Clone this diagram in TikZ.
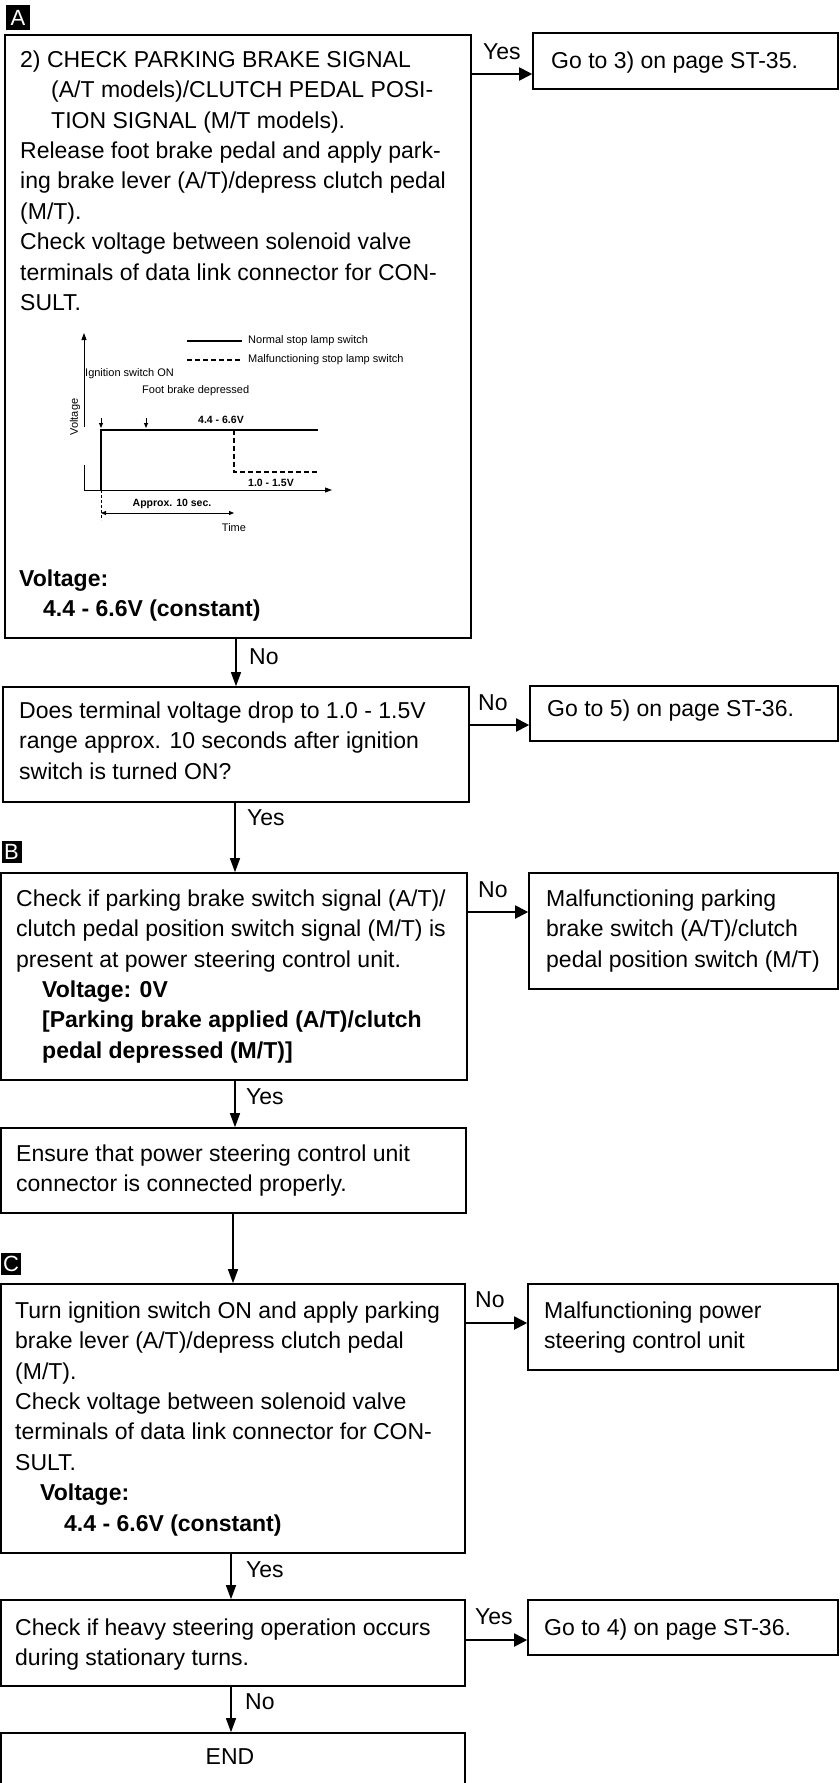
\documentclass[tikz,border=0pt]{standalone}
\usepackage{fontspec}
\setmainfont{Liberation Sans}
\usetikzlibrary{arrows.meta,fit}
\newcommand\mainfs{\fontsize{23}{30.4}\selectfont}
\newcommand\grfs{\fontsize{11}{13}\selectfont}
\begin{document}
\begin{tikzpicture}[x=1pt,y=-1pt,
  box/.style={draw,line width=1.6pt,inner sep=0pt},
  txt/.style={inner sep=0pt,anchor=north west,align=left,font=\mainfs},
  lbl/.style={inner sep=0pt,anchor=west,font=\mainfs},
  harr/.style={line width=1.9pt,-{Triangle[length=13pt,width=13pt]}},
  varr/.style={line width=1.2pt,-{Triangle[length=14pt,width=10pt]}},
  tag/.style={fill=black,text=white,font=\fontsize{22}{22}\selectfont,inner sep=0pt},
  gtxt/.style={inner sep=0pt,font=\grfs},
  gbold/.style={inner sep=0pt,font=\fontsize{10.5}{12}\selectfont\bfseries},
  gline/.style={line width=1.4pt}]
\useasboundingbox (0,0) rectangle (840,1783);
\clip (0,0) rectangle (840,1783);
\fill[white] (0,0) rectangle (840,1783);

% tags
\node[tag,minimum width=24pt,minimum height=25pt] (tA) at (18,17.5) {A};
\node[tag,minimum width=20pt,minimum height=22pt] (tB) at (11.5,852) {B};
\node[tag,minimum width=20pt,minimum height=22pt] (tC) at (11,1264) {C};

% boxes
\node[box,fit={(5,35) (471,638)}] (A) {};
\node[box,fit={(533,33) (838,89)}] (R1) {};
\node[box,fit={(3,687) (469,802)}] (Q2) {};
\node[box,fit={(530,686) (838,741)}] (R2) {};
\node[box,fit={(1,873) (467,1080)}] (B) {};
\node[box,fit={(529,873) (838,989)}] (RB) {};
\node[box,fit={(1,1128) (466,1213)}] (E) {};
\node[box,fit={(1,1284) (465,1553)}] (C) {};
\node[box,fit={(528,1284) (838,1370)}] (RC) {};
\node[box,fit={(1,1600) (465,1686)}] (D) {};
\node[box,fit={(528,1600) (838,1655)}] (RD) {};
\node[box,fit={(1,1733) (465,1800)}] (END) {};

% texts
\node[txt] (tAtext) at (20,50.5) {2) CHECK PARKING BRAKE SIGNAL\\
\hspace*{31pt}(A/T models)/CLUTCH PEDAL POSI-\\
\hspace*{31pt}TION SIGNAL (M/T models).\\
Release foot brake pedal and apply park-\\
ing brake lever (A/T)/depress clutch pedal\\
(M/T).\\
Check voltage between solenoid valve\\
terminals of data link connector for CON-\\
SULT.};
\node[txt,font=\mainfs\bfseries] (tAvolt) at (19,569.5) {Voltage:\\
\hspace*{24pt}4.4 - 6.6V (constant)};
\node[txt] (tR1) at (551,51.5) {Go to 3) on page ST-35.};
\node[txt] (tQ2) at (19,701.5) {Does terminal voltage drop to 1.0 - 1.5V\\
range approx. 10 seconds after ignition\\
switch is turned ON?};
\node[txt] (tR2) at (547,700) {Go to 5) on page ST-36.};
\node[txt] (tB1) at (16,889.5) {Check if parking brake switch signal (A/T)/\\
clutch pedal position switch signal (M/T) is\\
present at power steering control unit.\\
\hspace*{26pt}\textbf{Voltage: 0V}\\
\hspace*{26pt}\textbf{[Parking brake applied (A/T)/clutch}\\
\hspace*{26pt}\textbf{pedal depressed (M/T)]}};
\node[txt] (tRB) at (546,889.5) {Malfunctioning parking\\
brake switch (A/T)/clutch\\
pedal position switch (M/T)};
\node[txt] (tE) at (16,1144.5) {Ensure that power steering control unit\\
connector is connected properly.};
\node[txt] (tC1) at (15,1301.5) {Turn ignition switch ON and apply parking\\
brake lever (A/T)/depress clutch pedal\\
(M/T).\\
Check voltage between solenoid valve\\
terminals of data link connector for CON-\\
SULT.\\
\hspace*{25pt}\textbf{Voltage:}\\
\hspace*{49pt}\textbf{4.4 - 6.6V (constant)}};
\node[txt] (tRC) at (544,1301.5) {Malfunctioning power\\
steering control unit};
\node[txt] (tD) at (15,1618.5) {Check if heavy steering operation occurs\\
during stationary turns.};
\node[txt] (tRD) at (544,1618.5) {Go to 4) on page ST-36.};
\node[inner sep=0pt,font=\mainfs] (tEND) at (230,1757) {END};

% connector labels
\node[lbl] (l1) at (483,52) {Yes};
\node[lbl] (l2) at (249,657) {No};
\node[lbl] (l3) at (478,703) {No};
\node[lbl] (l4) at (247,818) {Yes};
\node[lbl] (l5) at (478,890) {No};
\node[lbl] (l6) at (246,1097) {Yes};
\node[lbl] (l7) at (475,1300) {No};
\node[lbl] (l8) at (246,1570) {Yes};
\node[lbl] (l9) at (475,1617) {Yes};
\node[lbl] (l10) at (245,1702) {No};

% connectors
\coordinate (yA) at (0,74);
\coordinate (y2) at (0,725);
\coordinate (yB) at (0,912);
\coordinate (yC) at (0,1323);
\coordinate (yD) at (0,1640);
\draw[harr] (A.east |- yA) -- (R1.west |- yA);
\draw[harr] (Q2.east |- y2) -- (R2.west |- y2);
\draw[harr] (B.east |- yB) -- (RB.west |- yB);
\draw[harr] (C.east |- yC) -- (RC.west |- yC);
\draw[harr] (D.east |- yD) -- (RD.west |- yD);
\coordinate (x1) at (236,0);
\coordinate (x2) at (235,0);
\coordinate (x3) at (235,0);
\coordinate (x4) at (233,0);
\coordinate (x5) at (231,0);
\coordinate (x6) at (231,0);
\draw[varr] (A.south -| x1) -- (Q2.north -| x1);
\draw[varr] (Q2.south -| x2) -- (B.north -| x2);
\draw[varr] (B.south -| x3) -- (E.north -| x3);
\draw[varr] (E.south -| x4) -- (C.north -| x4);
\draw[varr] (C.south -| x5) -- (D.north -| x5);
\draw[varr] (D.south -| x6) -- (END.north -| x6);

% graph
\draw[line width=0.9pt,-{Triangle[length=7pt,width=5pt]}] (84,427) -- (84,333);
\draw[line width=0.9pt] (84,490) -- (84,465);
\draw[line width=0.9pt,-{Triangle[length=7pt,width=5pt]}] (84,490) -- (332,490);
\draw[gline] (101,490) -- (101,430) -- (318,430);
\draw[gline,dash pattern=on 5pt off 3pt] (234,430) -- (234,472) -- (318,472);
\draw[line width=1pt,-{Triangle[length=5pt,width=4pt]}] (101,418) -- (101,428);
\draw[line width=1pt,-{Triangle[length=5pt,width=4pt]}] (146,418) -- (146,428);
\draw[gline] (187,341) -- (242,341);
\draw[gline,dash pattern=on 5pt off 3pt] (187,360) -- (242,360);
\node[gtxt,anchor=west] (gn) at (248,341) {Normal stop lamp switch};
\node[gtxt,anchor=west] (gm) at (248,360) {Malfunctioning stop lamp switch};
\node[gtxt,anchor=west] (gi) at (85,374) {Ignition switch ON};
\node[gtxt,anchor=west] (gf) at (142,391) {Foot brake depressed};
\node[gtxt,rotate=90] (gv) at (75,417) {Voltage};
\node[gbold] (g44) at (221,420) {4.4 - 6.6V};
\node[gbold] (g10) at (271,483) {1.0 - 1.5V};
\node[gbold] (gap) at (172,504) {Approx. 10 sec.};
\draw[line width=0.8pt,{Triangle[length=5pt,width=4pt]}-{Triangle[length=5pt,width=4pt]}] (101,513) -- (234,513);
\draw[line width=0.6pt,dash pattern=on 3pt off 2pt] (101,490) -- (101,520);
\node[gtxt] (gt) at (234,528) {Time};
\end{tikzpicture}
\end{document}
